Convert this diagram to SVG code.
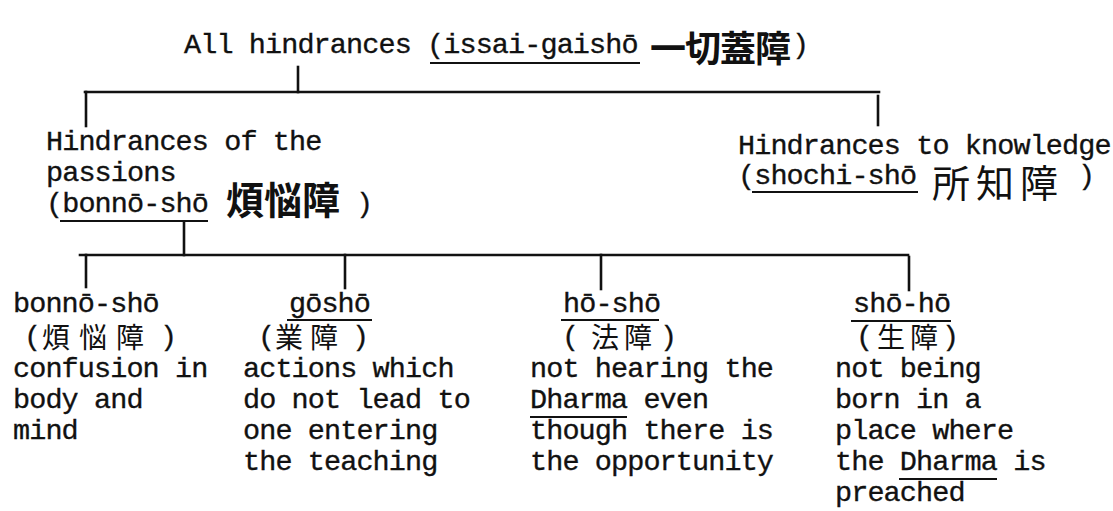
<svg xmlns="http://www.w3.org/2000/svg" width="1113" height="511" viewBox="0 0 1113 511">
<style>
  .t { font-family: "Liberation Mono", "Courier New", monospace; font-size: 28.5px; letter-spacing: -0.9px; fill: #111; stroke: #111; stroke-width: 0.35; }
  .k { font-family: "Noto Sans CJK JP", "Noto Sans CJK SC", sans-serif; fill: #111; }
  .kb { font-weight: 700; }
  .ul { stroke: #111; stroke-width: 2.2; fill: none; }
  .c { stroke: #111; stroke-width: 2.6; fill: none; stroke-linecap: square; }
</style>
<rect width="1113" height="511" fill="#ffffff"/>

<g id="connectors">
  <line class="c" x1="298" y1="67" x2="298" y2="92"/>
  <line class="c" x1="85" y1="92" x2="879" y2="92"/>
  <line class="c" x1="86" y1="92" x2="86" y2="126"/>
  <line class="c" x1="878" y1="96" x2="878" y2="125"/>
  <line class="c" x1="184" y1="222" x2="184" y2="255"/>
  <line class="c" x1="80" y1="255" x2="908" y2="255"/>
  <line class="c" x1="86" y1="255" x2="86" y2="287"/>
  <line class="c" x1="345" y1="255" x2="345" y2="288"/>
  <line class="c" x1="601" y1="255" x2="601" y2="289"/>
  <line class="c" x1="909" y1="257" x2="909" y2="290"/>
</g>

<g id="root">
  <text class="t" x="184" y="53">All hindrances (issai-gaishō</text>
  <line class="ul" x1="430" y1="63" x2="640" y2="63"/>
  <text class="k kb" x="650" y="62" font-size="36" letter-spacing="-1">一切蓋障</text>
  <text class="t" x="792" y="53">)</text>
</g>

<g id="passions">
  <text class="t" x="46" y="150">Hindrances of the</text>
  <text class="t" x="46" y="181">passions</text>
  <text class="t" x="46" y="212">(bonnō-shō</text>
  <line class="ul" x1="60" y1="221" x2="208" y2="221"/>
  <text class="k kb" x="226" y="214" font-size="38">煩悩障</text>
  <text class="t" x="356" y="212">)</text>
</g>

<g id="knowledge">
  <text class="t" x="738" y="154">Hindrances to knowledge</text>
  <text class="t" x="738" y="184">(shochi-shō</text>
  <line class="ul" x1="752" y1="192" x2="918" y2="192"/>
  <text class="k" x="932" y="197" font-size="38" letter-spacing="6">所知障</text>
  <text class="t" x="1078" y="184">)</text>
</g>

<g id="bonno-sho">
  <text class="t" x="13" y="312">bonnō-shō</text>
  <text class="t" x="24" y="345">(</text>
  <text class="k" x="42" y="348" font-size="28" letter-spacing="9">煩悩障</text>
  <text class="t" x="160" y="345">)</text>
  <text class="t" x="13" y="377">confusion in</text>
  <text class="t" x="13" y="408">body and</text>
  <text class="t" x="13" y="439">mind</text>
</g>

<g id="gosho">
  <text class="t" x="289" y="312">gōshō</text>
  <line class="ul" x1="287" y1="320" x2="372" y2="320"/>
  <text class="t" x="258" y="345">(</text>
  <text class="k" x="275" y="348" font-size="28" letter-spacing="7">業障</text>
  <text class="t" x="352" y="345">)</text>
  <text class="t" x="243" y="377">actions which</text>
  <text class="t" x="243" y="408">do not lead to</text>
  <text class="t" x="243" y="439">one entering</text>
  <text class="t" x="243" y="470">the teaching</text>
</g>

<g id="ho-sho">
  <text class="t" x="563" y="312">hō-shō</text>
  <line class="ul" x1="561" y1="320" x2="659" y2="320"/>
  <text class="t" x="562" y="345">(</text>
  <text class="k" x="591" y="348" font-size="28" letter-spacing="5">法障</text>
  <text class="t" x="660" y="345">)</text>
  <text class="t" x="530" y="377">not hearing the</text>
  <text class="t" x="530" y="408">Dharma even</text>
  <line class="ul" x1="530" y1="417" x2="627" y2="417"/>
  <text class="t" x="530" y="439">though there is</text>
  <text class="t" x="530" y="470">the opportunity</text>
</g>

<g id="sho-ho">
  <text class="t" x="853" y="312">shō-hō</text>
  <line class="ul" x1="851" y1="321" x2="951" y2="321"/>
  <text class="t" x="856" y="345">(</text>
  <text class="k" x="877" y="348" font-size="28" letter-spacing="5">生障</text>
  <text class="t" x="942" y="345">)</text>
  <text class="t" x="835" y="377">not being</text>
  <text class="t" x="835" y="408">born in a</text>
  <text class="t" x="835" y="439">place where</text>
  <text class="t" x="835" y="470">the Dharma is</text>
  <line class="ul" x1="899" y1="479" x2="997" y2="479"/>
  <text class="t" x="835" y="501">preached</text>
</g>
</svg>
